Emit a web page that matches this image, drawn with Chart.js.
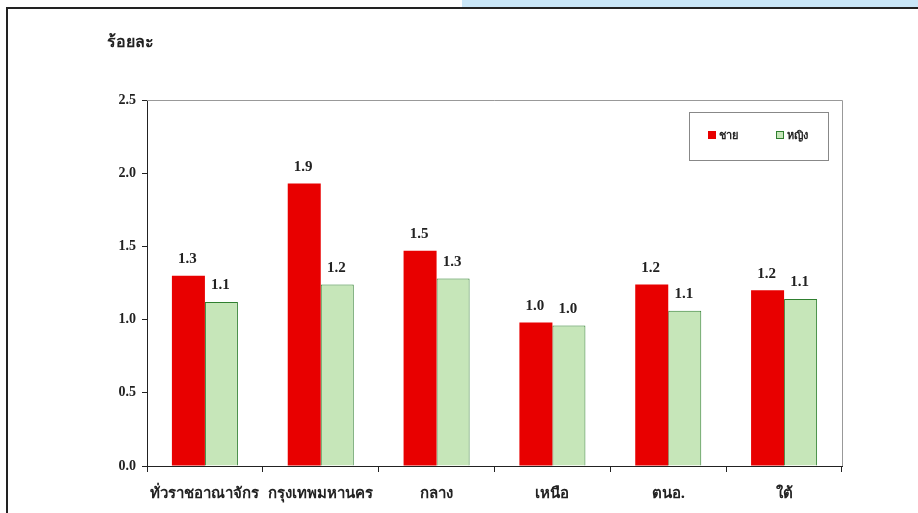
<!DOCTYPE html>
<html>
<head>
<meta charset="utf-8">
<script src="https://cdn.jsdelivr.net/npm/chart.js@4.4.1/dist/chart.umd.min.js"></script>
<style>
  html, body { margin: 0; padding: 0; background: #fff; }
  #wrap { position: relative; width: 918px; height: 513px; overflow: hidden; background: #fff; }
  #band { position: absolute; left: 462px; top: 0; width: 456px; height: 7px; background: #c9e6f7; }
  #frame { position: absolute; left: 6px; top: 7px; width: 920px; height: 520px; border-top: 2px solid #222; border-left: 2px solid #222; }
  #chart { position: absolute; left: 0; top: 0; }
</style>
</head>
<body>
<div id="wrap">
  <div id="band"></div>
  <div id="frame"></div>
  <canvas id="chart" width="918" height="513"></canvas>
</div>
<script>
  //categories and values
  var regions = ['ทั่วราชอาณาจักร', 'กรุงเทพมหานคร', 'กลาง', 'เหนือ', 'ตนอ.', 'ใต้'];
  var male = [1.30, 1.93, 1.47, 0.98, 1.24, 1.20];
  var female = [1.12, 1.24, 1.28, 0.96, 1.06, 1.14];
  var yTicks = [0, 0.5, 1.0, 1.5, 2.0, 2.5];

  var thaiFont = "'Noto Sans', 'DejaVu Sans', sans-serif";
  var numFont = "'Liberation Serif', 'DejaVu Serif', serif";

  //value labels above each bar
  var barLabels = {
    id: 'barLabels',
    afterDatasetsDraw: function(chart){
      var ctx = chart.ctx;
      ctx.save();
      ctx.fillStyle = '#222';
      ctx.font = 'bold 15px ' + numFont;
      ctx.textAlign = 'center';
      ctx.textBaseline = 'bottom';
      chart.data.datasets.forEach(function(ds, i){
        chart.getDatasetMeta(i).data.forEach(function(bar, j){
          ctx.fillText(ds.data[j].toFixed(1), bar.x - 1, bar.y - 9);
        });
      });
      ctx.restore();
    }
  };

  //grey border on top and right of the plot area, axis title, boxed legend
  var frameLines = {
    id: 'frameLines',
    beforeDatasetsDraw: function(chart){
      var a = chart.chartArea, ctx = chart.ctx;
      ctx.save();
      ctx.strokeStyle = '#999';
      ctx.lineWidth = 1;
      ctx.beginPath();
      ctx.moveTo(a.left, a.top + 0.5);
      ctx.lineTo(a.right + 0.5, a.top + 0.5);
      ctx.lineTo(a.right + 0.5, a.bottom);
      ctx.stroke();
      ctx.fillStyle = '#222';
      ctx.font = 'bold 16px ' + thaiFont;
      ctx.textAlign = 'left';
      ctx.textBaseline = 'middle';
      ctx.fillText('ร้อยละ', 107, 42);

      //legend box
      ctx.strokeStyle = '#888';
      ctx.strokeRect(689.5, 112.5, 139, 48);
      var xs = [708, 776];
      chart.data.datasets.forEach(function(ds, i){
        ctx.fillStyle = ds.backgroundColor;
        ctx.fillRect(xs[i], 131, 8, 8);
        if (ds.borderWidth) {
          ctx.strokeStyle = ds.borderColor;
          ctx.strokeRect(xs[i] + 0.5, 131.5, 7, 7);
        }
        ctx.fillStyle = '#222';
        ctx.font = 'bold 11px ' + thaiFont;
        ctx.fillText(ds.label, xs[i] + 11, 136);
      });
      ctx.restore();
    }
  };

  var ctx = document.getElementById('chart');
  var chart = new Chart(ctx, {
    type: 'bar',
    data: {
      labels: regions,
      datasets: [{
        label: 'ชาย',
        data: male,
        backgroundColor: '#e80000',
        borderColor: '#d00000',
        borderWidth: 0
      }, {
        label: 'หญิง',
        data: female,
        backgroundColor: '#c6e6b9',
        borderColor: '#2f7f2f',
        borderWidth: 1
      }]
    },
    options: {
      responsive: false,
      animation: false,
      barPercentage: 1.0,
      categoryPercentage: 0.57,
      layout: { padding: { left: 0, right: 76, top: 100, bottom: 0 } },
      plugins: {
        legend: { display: false },
        tooltip: { enabled: false }
      },
      scales: {
        x: {
          grid: { display: true, drawOnChartArea: false, color: '#222', tickLength: 6, offset: true },
          border: { color: '#222', width: 1 },
          ticks: { color: '#222', font: { family: thaiFont, size: 15, weight: 'bold' }, padding: 13 },
          afterFit: function(scale){ scale.height = 47; }
        },
        y: {
          min: 0,
          max: 2.5,
          afterBuildTicks: function(scale){ scale.ticks = yTicks.map(function(v){ return { value: v }; }); },
          grid: { display: true, drawOnChartArea: false, color: '#222', tickLength: 5 },
          border: { color: '#222', width: 1 },
          ticks: {
            color: '#222',
            font: { family: numFont, size: 14, weight: 'bold' },
            padding: 6,
            callback: function(v){ return Number(v).toFixed(1); }
          },
          afterFit: function(scale){ scale.width = 147; }
        }
      }
    },
    plugins: [barLabels, frameLines]
  });
</script>
</body>
</html>
